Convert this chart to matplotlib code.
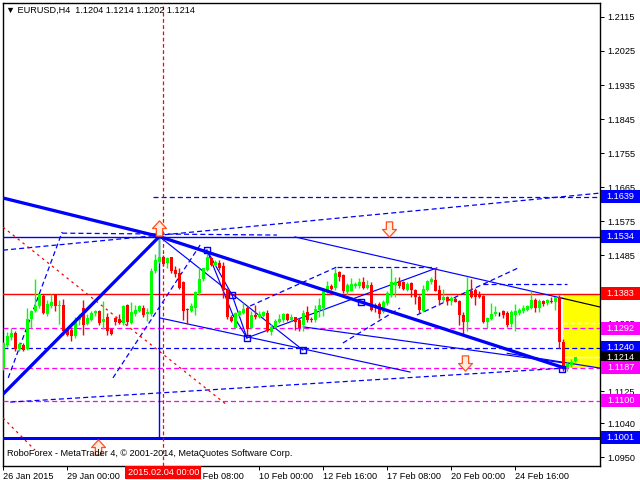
import matplotlib
matplotlib.use("Agg")
import matplotlib.pyplot as plt
import numpy as np
from matplotlib.patches import Rectangle
from matplotlib.path import Path
import matplotlib.transforms as mtransforms

# ---------------- data (H4 bars, index 0 = 26 Jan 2015 08:00) ----------------
opens = [1.1186,1.1246,1.1267,1.1280,1.1237,1.1247,1.1237,1.1315,1.1336,1.1349,
         1.1378,1.1329,1.1351,1.1382,1.1349,1.1353,1.1287,1.1287,1.1270,1.1314,
         1.1346,1.1302,1.1314,1.1331,1.1337,1.1309,1.1320,1.1290,1.1318,1.1315,
         1.1304,1.1352,1.1305,1.1329,1.1337,1.1346,1.1329,1.1329,1.1442,1.1468,
         1.1479,1.1464,1.1479,1.1446,1.1437,1.1413,1.1343,1.1337,1.1345,1.1384,
         1.1422,1.1446,1.1477,1.1459,1.1464,1.1455,1.1393,1.1322,1.1293,1.1327,
         1.1331,1.1345,1.1292,1.1327,1.1322,1.1325,1.1331,1.1281,1.1293,1.1307,
         1.1314,1.1329,1.1314,1.1320,1.1314,1.1299,1.1334,1.1316,1.1314,1.1340,
         1.1346,1.1389,1.1404,1.1397,1.1440,1.1431,1.1387,1.1390,1.1402,1.1402,
         1.1415,1.1399,1.1406,1.1353,1.1355,1.1334,1.1358,1.1380,1.1406,1.1417,
         1.1413,1.1393,1.1411,1.1393,1.1375,1.1337,1.1393,1.1413,1.1419,1.1393,
         1.1367,1.1373,1.1364,1.1369,1.1364,1.1327,1.1309,1.1390,1.1393,1.1380,
         1.1378,1.1307,1.1316,1.1329,1.1334,1.1337,1.1331,1.1302,1.1327,1.1331,
         1.1336,1.1340,1.1346,1.1367,1.1346,1.1364,1.1358,1.1364,1.1362,1.1375,
         1.1256,1.1186,1.1195,1.1204]
highs = [1.1256,1.1281,1.1292,1.1283,1.1256,1.1252,1.1345,1.1340,1.1422,1.1382,
         1.1382,1.1367,1.1382,1.1382,1.1367,1.1369,1.1292,1.1296,1.1322,1.1329,
         1.1367,1.1329,1.1337,1.1340,1.1340,1.1364,1.1331,1.1293,1.1320,1.1329,
         1.1352,1.1355,1.1360,1.1353,1.1353,1.1353,1.1346,1.1450,1.1487,1.1534,
         1.1486,1.1481,1.1481,1.1455,1.1452,1.1417,1.1345,1.1358,1.1389,1.1450,
         1.1452,1.1499,1.1481,1.1472,1.1472,1.1468,1.1397,1.1327,1.1334,1.1340,
         1.1358,1.1349,1.1337,1.1353,1.1336,1.1337,1.1340,1.1302,1.1316,1.1329,
         1.1331,1.1331,1.1329,1.1322,1.1318,1.1340,1.1349,1.1320,1.1353,1.1371,
         1.1399,1.1417,1.1408,1.1450,1.1443,1.1434,1.1411,1.1424,1.1415,1.1424,
         1.1428,1.1419,1.1413,1.1358,1.1362,1.1367,1.1389,1.1450,1.1428,1.1428,
         1.1417,1.1413,1.1413,1.1396,1.1380,1.1406,1.1419,1.1428,1.1452,1.1406,
         1.1396,1.1378,1.1378,1.1373,1.1367,1.1334,1.1428,1.1422,1.1397,1.1390,
         1.1380,1.1320,1.1358,1.1349,1.1334,1.1340,1.1337,1.1340,1.1355,1.1346,
         1.1352,1.1353,1.1389,1.1371,1.1369,1.1367,1.1369,1.1373,1.1375,1.1380,
         1.1263,1.1203,1.1210,1.1214]
lows  = [1.1182,1.1243,1.1261,1.1232,1.1232,1.1230,1.1234,1.1292,1.1334,1.1346,
         1.1329,1.1325,1.1346,1.1337,1.1302,1.1274,1.1270,1.1258,1.1265,1.1300,
         1.1274,1.1300,1.1311,1.1325,1.1300,1.1290,1.1274,1.1274,1.1299,1.1302,
         1.1300,1.1300,1.1302,1.1325,1.1334,1.1320,1.1311,1.1325,1.1437,1.1464,
         1.1455,1.1450,1.1437,1.1428,1.1396,1.1314,1.1302,1.1334,1.1327,1.1380,
         1.1417,1.1443,1.1455,1.1455,1.1446,1.1371,1.1316,1.1309,1.1292,1.1325,
         1.1329,1.1270,1.1290,1.1316,1.1318,1.1320,1.1281,1.1274,1.1292,1.1305,
         1.1309,1.1311,1.1311,1.1287,1.1285,1.1283,1.1309,1.1307,1.1309,1.1322,
         1.1325,1.1384,1.1393,1.1393,1.1417,1.1384,1.1380,1.1389,1.1399,1.1397,
         1.1396,1.1396,1.1336,1.1334,1.1318,1.1331,1.1353,1.1375,1.1375,1.1397,
         1.1393,1.1390,1.1373,1.1355,1.1331,1.1334,1.1390,1.1408,1.1389,1.1353,
         1.1360,1.1353,1.1353,1.1360,1.1300,1.1274,1.1283,1.1371,1.1353,1.1371,
         1.1305,1.1292,1.1314,1.1325,1.1325,1.1318,1.1296,1.1296,1.1285,1.1327,
         1.1331,1.1336,1.1343,1.1334,1.1334,1.1349,1.1353,1.1358,1.1340,1.1239,
         1.1177,1.1179,1.1190,1.1202]
closes = [1.1252,1.1270,1.1280,1.1237,1.1249,1.1234,1.1316,1.1337,1.1351,1.1382,
          1.1333,1.1355,1.1362,1.1349,1.1353,1.1283,1.1274,1.1271,1.1314,1.1325,
          1.1300,1.1318,1.1331,1.1337,1.1305,1.1316,1.1285,1.1277,1.1309,1.1305,
          1.1349,1.1307,1.1334,1.1340,1.1349,1.1327,1.1334,1.1443,1.1472,1.1481,
          1.1461,1.1477,1.1442,1.1434,1.1399,1.1336,1.1339,1.1349,1.1387,1.1422,
          1.1450,1.1479,1.1459,1.1468,1.1450,1.1393,1.1320,1.1311,1.1331,1.1337,
          1.1343,1.1290,1.1327,1.1320,1.1329,1.1334,1.1283,1.1296,1.1311,1.1316,
          1.1329,1.1314,1.1322,1.1309,1.1292,1.1331,1.1314,1.1314,1.1343,1.1352,
          1.1390,1.1402,1.1396,1.1437,1.1428,1.1389,1.1406,1.1408,1.1408,1.1413,
          1.1399,1.1406,1.1340,1.1346,1.1329,1.1362,1.1384,1.1415,1.1415,1.1404,
          1.1396,1.1408,1.1393,1.1373,1.1340,1.1396,1.1417,1.1422,1.1390,1.1367,
          1.1373,1.1364,1.1371,1.1362,1.1327,1.1309,1.1393,1.1375,1.1375,1.1375,
          1.1307,1.1318,1.1329,1.1334,1.1334,1.1327,1.1300,1.1334,1.1336,1.1340,
          1.1345,1.1349,1.1367,1.1346,1.1364,1.1355,1.1367,1.1360,1.1373,1.1256,
          1.1186,1.1196,1.1203,1.1214]

date_tick_bars = [0, 16, 48, 64, 80, 96, 112, 128]
date_tick_labels = ["26 Jan 2015", "29 Jan 00:00", "5 Feb 08:00",
                    "10 Feb 00:00", "12 Feb 16:00", "17 Feb 08:00",
                    "20 Feb 00:00", "24 Feb 16:00"]
cursor_bar = 40
cursor_label = "2015.02.04 00:00"

price_ticks = [1.2115, 1.2025, 1.1935, 1.1845, 1.1755, 1.1665, 1.1575, 1.1485,
               1.1395, 1.1305, 1.1215, 1.1125, 1.1040, 1.0950]

# level lines: price, colour, style
level_prices = [1.1534, 1.1383, 1.1292, 1.1240, 1.1187, 1.1100, 1.1001]
level_colors = ["#0000FF", "#FF0000", "#FF00FF", "#0000FF", "#FF00FF", "#FF00FF", "#0000FF"]
level_styles = ["solid", "solid", "dash", "dash", "dash", "dash", "thick"]

# price label boxes on the right scale
box_prices = [1.1639, 1.1534, 1.1383, 1.1292, 1.1240, 1.1214, 1.1187, 1.1100, 1.1001]
box_colors = ["#0000FF", "#0000FF", "#FF0000", "#FF00FF", "#0000FF", "#000000",
              "#FF00FF", "#FF00FF", "#0000FF"]

# analysis objects: (bar0, price0, bar1, price1)
thick_lines = [(-0.1, 1.1636, 39, 1.1534),
               (-0.1, 1.1117, 39, 1.1534),
               (39, 1.1534, 140.4, 1.1186)]
thin_lines = [(72.9, 1.1533, 139.7, 1.1371),
              (39.2, 1.13185, 101.7, 1.11756),
              (39, 1.1534, 74.9, 1.12338),
              (50.9, 1.1498, 57.2, 1.1379),
              (57.2, 1.1379, 60.9, 1.1266),
              (50.9, 1.1498, 57.4, 1.1326),
              (57.4, 1.1326, 60.9, 1.1266),
              (60.9, 1.1266, 108.4, 1.1451),
              (75.0, 1.1295, 139.9, 1.1200),
              (126.0, 1.1225, 149.2, 1.1186)]
black_lines = [(139.7, 1.1371, 149.2, 1.13476)]
dashed_lines = [(-0.1, 1.1498, 149.2, 1.1649),
                (37.4, 1.1639, 149.2, 1.1639),
                (14.7, 1.1543, 68.4, 1.1538),
                (1.2, 1.1160, 14.7, 1.15461),
                (27.4, 1.1160, 49.2, 1.15117),
                (1.7, 1.1096, 140.4, 1.1186),
                (61.7, 1.13503, 83.4, 1.14535),
                (83.4, 1.14535, 107.4, 1.14535),
                (84.9, 1.12523, 99.2, 1.13450),
                (103.4, 1.13264, 128.7, 1.14508),
                (119.9, 1.14085, 141.0, 1.14085)]
red_dotted = [(-0.1, 1.1559, 55.7, 1.1090),
              (-0.1, 1.1054, 7.9, 1.0969)]
square_points_x = [50.9, 57.2, 60.9, 74.9, 89.4, 139.7]
square_points_y = [1.1498, 1.1379, 1.1266, 1.12338, 1.1361, 1.1183]
up_arrows_x = [39, 23.7]
up_arrows_y = [1.1556, 1.0977]
down_arrows_x = [96.4, 115.4]
down_arrows_y = [1.1554, 1.1199]
target_zone = (139.9, 1.1187, 1.1383)   # start bar, low, high
peak_bar = 39

# ---------------- figure ----------------
PX = 0.72
FONT = ["Liberation Sans", "DejaVu Sans"]
plt.rcParams["font.family"] = FONT

fig = plt.figure(figsize=(6.4, 4.8), dpi=100)
fig.patch.set_facecolor("white")
ax = fig.add_axes([3 / 640, 14 / 480, 597 / 640, 463 / 480])
ax.set_facecolor("white")
x_lo, x_hi = -0.1, 149.2
ax.set_xlim(x_lo, x_hi)
ax.set_ylim(1.09269, 1.21520)

o = np.array(opens); h = np.array(highs); l = np.array(lows); c = np.array(closes)
idx = np.arange(len(o))

# target zone
z0, zlo, zhi = target_zone
ax.add_patch(Rectangle((z0, zlo), x_hi - z0 + 5, zhi - zlo, facecolor="#FFFF00",
                       edgecolor="none", zorder=1))
ax.hlines([1.1305], z0, x_hi, colors="white", linewidth=1.0, linestyles=(0, (3, 2)), zorder=2)
ax.hlines([closes[-1]], z0, x_hi, colors="white", linewidth=1.0, zorder=2)

dash = (0, (4, 2.5))
for p, col, st in zip(level_prices, level_colors, level_styles):
    if st == "solid":
        ax.axhline(p, color=col, linewidth=1.0, zorder=3)
    elif st == "thick":
        ax.axhline(p, color=col, linewidth=3 * PX, zorder=3)
    else:
        ax.axhline(p, color=col, linewidth=0.9, linestyle=dash, zorder=3)

for (x0, y0, x1, y1) in dashed_lines:
    ax.plot([x0, x1], [y0, y1], color="#0000FF", linewidth=0.9, linestyle=dash, zorder=3)
for (x0, y0, x1, y1) in red_dotted:
    ax.plot([x0, x1], [y0, y1], color="#FF0000", linewidth=0.9, linestyle=(0, (2, 3)), zorder=3)
for (x0, y0, x1, y1) in thin_lines:
    ax.plot([x0, x1], [y0, y1], color="#0000FF", linewidth=0.85, zorder=3)
for (x0, y0, x1, y1) in black_lines:
    ax.plot([x0, x1], [y0, y1], color="#000000", linewidth=0.85, zorder=3)

# cursor verticals
ax.vlines([peak_bar], level_prices[-1], highs[peak_bar], colors="#0000FF", linewidth=1.0, zorder=3)
ax.axvline(cursor_bar, color="#FF0000", linewidth=0.9, linestyle=(0, (3, 2)), zorder=6)

# candles
cols = np.where(c > o, "#00FF00", np.where(c < o, "#FF0000", "#000000"))
ax.vlines(idx, l, h, colors=cols, linewidth=1.0, zorder=4)
body_bot = np.minimum(o, c)
body_h = np.maximum(np.abs(c - o), 0.00003)
ax.bar(idx, body_h, bottom=body_bot, width=0.8, color=cols, linewidth=0, zorder=5,
       antialiased=False)

for (x0, y0, x1, y1) in thick_lines:
    ax.plot([x0, x1], [y0, y1], color="#0000FF", linewidth=3 * PX + 0.2,
            solid_capstyle="butt", zorder=6)

ax.scatter(square_points_x, square_points_y, marker="s", s=22, facecolors="none",
           edgecolors="#0000FF", linewidths=1.0, zorder=7)

up_path = Path([(-0.25, -0.6), (0.25, -0.6), (0.25, 0.0), (0.55, 0.0), (0.0, 0.6),
                (-0.55, 0.0), (-0.25, 0.0), (-0.25, -0.6)], closed=True)
down_path = Path([(x, -y) for (x, y) in up_path.vertices], closed=True)
ax.scatter(up_arrows_x, up_arrows_y, marker=up_path, s=120, facecolors="#FFEDE0",
           edgecolors="#FF5020", linewidths=0.9, zorder=8)
ax.scatter(down_arrows_x, down_arrows_y, marker=down_path, s=120, facecolors="#FFEDE0",
           edgecolors="#FF5020", linewidths=0.9, zorder=8)

# axes styling
for s in ax.spines.values():
    s.set_color("black")
    s.set_linewidth(1.0)
ax.yaxis.tick_right()
ax.set_yticks(price_ticks)
ax.set_yticklabels([f"{p:.4f}" for p in price_ticks])
ax.tick_params(axis="y", direction="out", length=3, width=PX, pad=2.5,
               labelsize=6.6, colors="black")
ax.set_xticks(date_tick_bars)
ax.set_xticklabels(date_tick_labels)
ax.tick_params(axis="x", direction="out", length=3, width=PX, pad=1.5,
               labelsize=6.6, colors="black")
for t in ax.get_xticklabels():
    t.set_horizontalalignment("left")

# right-hand price boxes
btr = mtransforms.blended_transform_factory(ax.transAxes, ax.transData)
half = 0.00172
for p, col in zip(box_prices, box_colors):
    ax.add_patch(Rectangle((1.0018, p - half), 0.0655, 2 * half, transform=btr,
                           facecolor=col, edgecolor="none", clip_on=False, zorder=10))
    ax.text(1.0345, p, f"{p:.4f}", transform=btr, color="white", fontsize=6.6,
            ha="center", va="center", clip_on=False, zorder=11)

# cursor date box
ax.text(cursor_bar, -0.004, cursor_label,
        transform=mtransforms.blended_transform_factory(ax.transData, ax.transAxes),
        ha="center", va="top", fontsize=6.6, color="white", zorder=12, clip_on=False,
        bbox=dict(boxstyle="square,pad=0.25", facecolor="#FF0000", edgecolor="none"))

fig.text(6 / 640, 1 - 10 / 480, "\u25BC EURUSD,H4  1.1204 1.1214 1.1202 1.1214",
         fontsize=6.6, va="center", ha="left", color="black")
ax.text(0.006, 0.028, "RoboForex - MetaTrader 4, \u00A9 2001-2014, MetaQuotes Software Corp.",
        transform=ax.transAxes, fontsize=6.6, va="center", ha="left", color="black", zorder=12)

fig.savefig("out.png", dpi=100, facecolor="white")
